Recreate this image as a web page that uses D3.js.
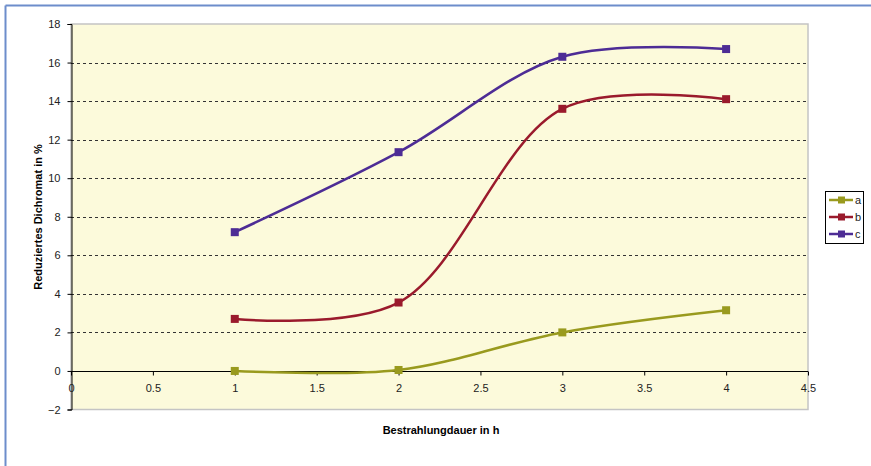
<!DOCTYPE html>
<html><head><meta charset="utf-8">
<script src="https://cdn.jsdelivr.net/npm/d3@7"></script>
<style>body{margin:0;background:#fff}svg{display:block;font-family:"Liberation Sans",Arial,sans-serif}</style>
</head><body>
<svg id="chart" width="871" height="466"></svg>
<script>
const xValues = [1, 2, 3, 4];
const seriesNames = ["a", "b", "c"];
const seriesA = [0, 0.05, 2.0, 3.15];
const seriesB = [2.7, 3.55, 13.6, 14.1];
const seriesC = [7.2, 11.35, 16.3, 16.7];
const xTicks = [0, 0.5, 1, 1.5, 2, 2.5, 3, 3.5, 4, 4.5];
const yTicks = [-2, 0, 2, 4, 6, 8, 10, 12, 14, 16, 18];
const colors = ["#999a1e", "#9a1a2c", "#4d2c95"];
const xTitle = "Bestrahlungdauer in h";
const yTitle = "Reduziertes Dichromat in %";

const svg = d3.select("#chart");
const L = 71, R = 808, T = 24, B = 409.5;
const x = d3.scaleLinear().domain([0, 4.5]).range([L, R]);
const y = d3.scaleLinear().domain([-2, 18]).range([B, T]);

// outer frame
svg.append("line").attr("x1",5.5).attr("y1",5.5).attr("x2",871).attr("y2",5.5).attr("stroke","#6d8dcb").attr("stroke-width",2);
svg.append("line").attr("x1",5.5).attr("y1",5.5).attr("x2",5.5).attr("y2",466).attr("stroke","#6d8dcb").attr("stroke-width",2);

// plot area
svg.append("rect").attr("x",L).attr("y",T).attr("width",R-L).attr("height",B-T)
  .attr("fill","#fcfadb").attr("stroke","#c4c4c4").attr("stroke-width",1.5);

// grid lines
svg.append("g").selectAll("line").data(yTicks.filter(d => d !== 0 && d !== 18 && d !== -2)).join("line")
  .attr("x1",L).attr("x2",R).attr("y1",d=>Math.round(y(d))+0.5).attr("y2",d=>Math.round(y(d))+0.5)
  .attr("stroke","#333").attr("stroke-dasharray","3,3").attr("stroke-width",1);

// y axis
const yAxis = d3.axisLeft(y).tickValues(yTicks).tickSize(4).tickPadding(7).tickFormat(d3.format("d"));
const gy = svg.append("g").attr("transform",`translate(${L+0.5},0)`).call(yAxis);
gy.select(".domain").attr("stroke","#000");
gy.selectAll(".tick line").attr("stroke","#000");
gy.selectAll("text").attr("font-size",11).attr("fill","#222").attr("font-family","Liberation Sans, Arial, sans-serif");

// x axis at y = 0
const xAxis = d3.axisBottom(x).tickValues(xTicks).tickSize(4).tickPadding(9).tickFormat(d => String(d));
const gx = svg.append("g").attr("transform",`translate(0,${Math.round(y(0))+0.5})`).call(xAxis);
gx.select(".domain").attr("stroke","#000").attr("d",`M${L},0H${R}`);
gx.selectAll(".tick line").attr("stroke","#000");
gx.selectAll("text").attr("font-size",11).attr("fill","#222").attr("font-family","Liberation Sans, Arial, sans-serif");

// titles
svg.append("text").attr("x",441).attr("y",434).attr("text-anchor","middle").attr("font-size",11).attr("font-weight","bold").text(xTitle);
svg.append("text").attr("transform","translate(42,217) rotate(-90)").attr("text-anchor","middle").attr("font-size",11).attr("font-weight","bold").text(yTitle);

// series
const allSeries = [seriesA, seriesB, seriesC];
const line = d3.line().x((d,i)=>x(xValues[i])).y(d=>y(d)).curve(d3.curveCatmullRom.alpha(0.5));
allSeries.forEach((s,k) => {
  svg.append("path").attr("d", line(s)).attr("fill","none").attr("stroke",colors[k]).attr("stroke-width",2.5);
  svg.append("g").selectAll("rect").data(s).join("rect")
    .attr("x",(d,i)=>x(xValues[i])-4).attr("y",d=>y(d)-4).attr("width",8).attr("height",8).attr("fill",colors[k]);
});

// legend
const lg = svg.append("g");
lg.append("rect").attr("x",825.5).attr("y",191.5).attr("width",38).attr("height",52).attr("fill","#fff").attr("stroke","#000").attr("stroke-width",1);
seriesNames.forEach((n,k) => {
  const yy = 200 + k*17;
  lg.append("line").attr("x1",829).attr("x2",853).attr("y1",yy).attr("y2",yy).attr("stroke",colors[k]).attr("stroke-width",2.5);
  lg.append("rect").attr("x",838).attr("y",yy-3.5).attr("width",7).attr("height",7).attr("fill",colors[k]);
  lg.append("text").attr("x",855).attr("y",yy+4).attr("font-size",11).attr("fill","#222").text(n);
});
</script>
</body></html>
